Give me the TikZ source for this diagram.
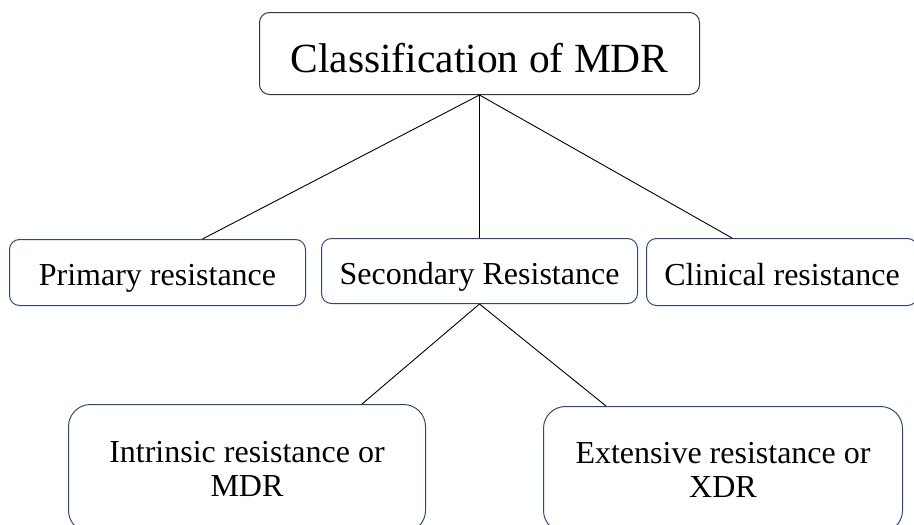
\documentclass[tikz,border=0pt]{standalone}
\usepackage{fontspec}
\setmainfont{Liberation Serif}
\definecolor{boxblue}{RGB}{50,72,112}
\definecolor{topgray}{RGB}{55,55,55}
\begin{document}
\begin{tikzpicture}[x=1pt,y=-1pt,
  box/.style={draw=boxblue, line width=1pt, rounded corners=10pt, inner sep=0pt,
    anchor=north west, align=center, font=\fontsize{32}{34}\selectfont},
  onebox/.style={box, text height=30pt, text depth=4pt},
  bigbox/.style={box, rounded corners=22pt},
  topbox/.style={box, draw=topgray, text height=42pt, text depth=4pt, font=\fontsize{41.5}{44}\selectfont},
  link/.style={draw=black, line width=0.9pt}
  ]
\useasboundingbox (0,0) rectangle (914,525);
\clip (0,0) rectangle (914,525);
\node[topbox, minimum width=440pt, minimum height=82pt] (top) at (259,12) {Classification of MDR};
\node[onebox, minimum width=296pt, minimum height=66pt] (prim) at (9,239) {Primary resistance};
\node[onebox, minimum width=316pt, minimum height=65pt] (sec) at (321,238) {Secondary Resistance};
\node[onebox, minimum width=271pt, minimum height=67pt] (clin) at (646,238) {Clinical resistance};
\node[bigbox, minimum width=357pt, minimum height=128pt] (intr) at (68,404) {Intrinsic resistance or\\MDR};
\node[bigbox, minimum width=359pt, minimum height=126pt] (ext) at (543,406) {Extensive resistance or\\XDR};
\coordinate (primTop) at ([xshift=45pt]prim.north);
\coordinate (clinTop) at ([xshift=-50pt]clin.north);
\coordinate (intrTop) at ([xshift=115pt]intr.north);
\coordinate (extTop) at ([xshift=-117pt]ext.north);
\draw[link] (top.south) -- (primTop);
\draw[link] (top.south) -- (sec.north);
\draw[link] (top.south) -- (clinTop);
\draw[link] (sec.south) -- (intrTop);
\draw[link] (sec.south) -- (extTop);
\end{tikzpicture}
\end{document}
